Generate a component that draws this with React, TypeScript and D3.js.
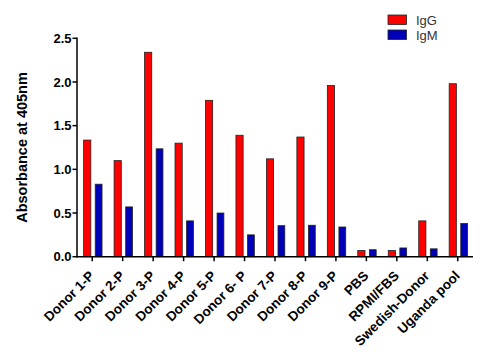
import React from "react";
import * as d3 from "d3";

const categories = [
  "Donor 1-P", "Donor 2-P", "Donor 3-P", "Donor 4-P", "Donor 5-P", "Donor 6- P",
  "Donor 7-P", "Donor 8-P", "Donor 9-P", "PBS", "RPMI/FBS", "Swedish-Donor", "Uganda pool",
];
const igG = [1.335, 1.10, 2.34, 1.30, 1.79, 1.39, 1.12, 1.37, 1.96, 0.07, 0.07, 0.41, 1.98];
const igM = [0.83, 0.57, 1.235, 0.41, 0.50, 0.25, 0.355, 0.36, 0.34, 0.08, 0.10, 0.09, 0.38];
const yTicks = [0, 0.5, 1.0, 1.5, 2.0, 2.5];
const seriesNames = ["IgG", "IgM"];
const colors = ["#ff0000", "#0000b8"];

export default function App() {
  const W = 483, H = 357;
  const x0 = 77, x1 = 473, yTop = 38.3, yBot = 256.7;
  const x = d3.scaleBand<string>().domain(categories).range([x0, x1]).padding(0);
  const y = d3.scaleLinear().domain([0, 2.5]).range([yBot, yTop]);
  const font = "'Liberation Sans', Arial, Helvetica, sans-serif";
  const bw = 7.2;
  return (
    <svg width={W} height={H} style={{ position: "absolute", left: 0, top: 0, background: "#fff" }}>
      {categories.map((c, i) => {
        const cx = (x(c) as number) + x.bandwidth() / 2;
        return (
          <g key={c}>
            <rect x={cx - 8.6} y={y(igG[i])} width={bw} height={yBot - y(igG[i])}
              fill={colors[0]} stroke="#222" strokeWidth={0.8} />
            <rect x={cx + 3} y={y(igM[i])} width={bw - 0.4} height={yBot - y(igM[i])}
              fill={colors[1]} stroke="#222" strokeWidth={0.8} />
          </g>
        );
      })}
      {/* y axis */}
      <line x1={x0} x2={x0} y1={yTop - 0.7} y2={yBot + 0.7} stroke="#000" strokeWidth={1.5} />
      {yTicks.map((t) => (
        <g key={t}>
          <line x1={x0 - 4.5} x2={x0} y1={y(t)} y2={y(t)} stroke="#000" strokeWidth={1.5} />
          <text x={x0 - 5.5} y={y(t)} dy="0.35em" textAnchor="end" fontFamily={font}
            fontWeight="bold" fontSize={13} fill="#000">{t.toFixed(1)}</text>
        </g>
      ))}
      {/* x axis */}
      <line x1={x0 - 0.7} x2={x1} y1={yBot} y2={yBot} stroke="#000" strokeWidth={1.5} />
      {categories.map((c) => {
        const cx = (x(c) as number) + x.bandwidth() / 2;
        return (
          <g key={c}>
            <line x1={cx} x2={cx} y1={yBot} y2={yBot + 4.5} stroke="#000" strokeWidth={1.5} />
            <text transform={`translate(${cx + 3},${yBot + 20}) rotate(-45)`} textAnchor="end"
              fontFamily={font} fontWeight="bold" fontSize={13.5} fill="#000">{c}</text>
          </g>
        );
      })}
      {/* y label */}
      <text transform={`translate(27,${(yTop + yBot) / 2}) rotate(-90)`} textAnchor="middle"
        fontFamily={font} fontWeight="bold" fontSize={14.5} fill="#000">Absorbance at 405nm</text>
      {/* legend */}
      {seriesNames.map((s, i) => (
        <g key={s}>
          <rect x={388} y={15 + i * 15} width={18.5} height={9.5} fill={colors[i]} stroke="#222" strokeWidth={0.8} />
          <text x={416} y={20 + i * 15} dy="0.35em" fontFamily={font} fontSize={13} fill="#333">{s}</text>
        </g>
      ))}
    </svg>
  );
}
